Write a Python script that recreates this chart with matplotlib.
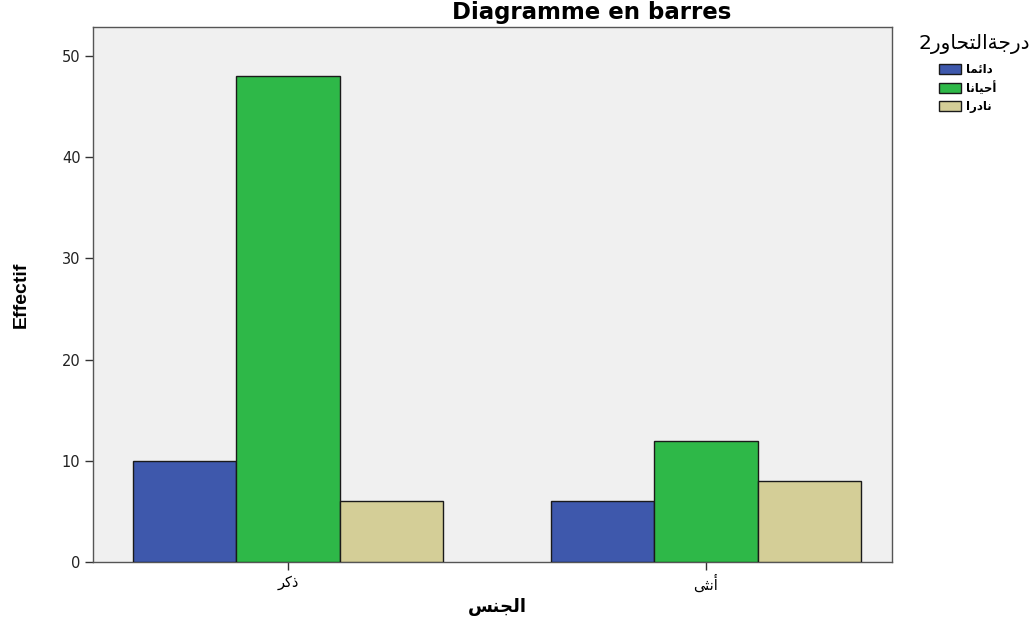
import matplotlib
matplotlib.use("Agg")
import matplotlib.pyplot as plt
import numpy as np
from matplotlib.patches import Patch

# ---- data ----
categories = ["ذكر", "أنثى"]
series_names = ["دائما", "أحيانا", "نادرا"]
values_always = [10, 6]
values_sometimes = [48, 12]
values_rarely = [6, 8]
colors = ["#3E58AC", "#2EB848", "#D4CE97"]
title = "Diagramme en barres"
ylabel = "Effectif"
xlabel = "الجنس"
legend_title = "درجةالتحاور2"
yticks = [0, 10, 20, 30, 40, 50]

# ---- minimal Arabic shaping (presentation forms) ----
FORMS = {
    "ا": ("\uFE8D", "\uFE8E", None, None),
    "أ": ("\uFE83", "\uFE84", None, None),
    "د": ("\uFEA9", "\uFEAA", None, None),
    "ذ": ("\uFEAB", "\uFEAC", None, None),
    "ر": ("\uFEAD", "\uFEAE", None, None),
    "و": ("\uFEED", "\uFEEE", None, None),
    "ة": ("\uFE93", "\uFE94", None, None),
    "ى": ("\uFEEF", "\uFEF0", None, None),
    "ئ": ("\uFE89", "\uFE8A", "\uFE8B", "\uFE8C"),
    "م": ("\uFEE1", "\uFEE2", "\uFEE3", "\uFEE4"),
    "ح": ("\uFEA1", "\uFEA2", "\uFEA3", "\uFEA4"),
    "ي": ("\uFEF1", "\uFEF2", "\uFEF3", "\uFEF4"),
    "ن": ("\uFEE5", "\uFEE6", "\uFEE7", "\uFEE8"),
    "ك": ("\uFED9", "\uFEDA", "\uFEDB", "\uFEDC"),
    "ث": ("\uFE99", "\uFE9A", "\uFE9B", "\uFE9C"),
    "ل": ("\uFEDD", "\uFEDE", "\uFEDF", "\uFEE0"),
    "ج": ("\uFE9D", "\uFE9E", "\uFE9F", "\uFEA0"),
    "س": ("\uFEB1", "\uFEB2", "\uFEB3", "\uFEB4"),
    "ت": ("\uFE95", "\uFE96", "\uFE97", "\uFE98"),
}


def shape(s):
    out = []
    n = len(s)
    for i, c in enumerate(s):
        if c not in FORMS:
            out.append(c)
            continue
        prev = s[i - 1] if i > 0 else None
        nxt = s[i + 1] if i < n - 1 else None
        jp = prev in FORMS and FORMS[prev][2] is not None
        jn = FORMS[c][2] is not None and nxt in FORMS
        f = FORMS[c]
        if jp and jn:
            out.append(f[3])
        elif jp:
            out.append(f[1])
        elif jn:
            out.append(f[2])
        else:
            out.append(f[0])
    return "".join(out)[::-1]


AR = ["DejaVu Sans"]

W, H = 1036, 628
fig = plt.figure(figsize=(W / 100, H / 100), dpi=100)
fig.patch.set_facecolor("white")
ax = fig.add_axes([93 / W, 1 - 562 / H, (892 - 93) / W, (562 - 27) / H])
ax.set_facecolor("#F0F0F0")

x = np.arange(len(categories))
bw = 0.2476
series = [values_always, values_sometimes, values_rarely]
for k, vals in enumerate(series):
    ax.bar(x + (k - 1) * bw, vals, width=bw, color=colors[k],
           edgecolor="#1a1a1a", linewidth=1.0, zorder=3)

ax.set_xlim(-0.4665, 1.445)
ax.set_ylim(0, 52.87)
ax.set_yticks(yticks)
ax.set_yticklabels([str(t) for t in yticks], fontsize=10.5,
                   family="DejaVu Sans", color="#222222")
ax.set_xticks(x)
ax.set_xticklabels([shape(c) for c in categories], family=AR, fontsize=10.5)
ax.tick_params(axis="both", direction="out", length=6, width=1.0,
               color="#333333", pad=3)
for sp in ax.spines.values():
    sp.set_color("#555555")
    sp.set_linewidth(1.0)

fig.text(592 / W, 1 - 13 / H, title, ha="center", va="center",
         fontsize=16.5, fontweight="bold", family="DejaVu Sans")
fig.text(21 / W, 1 - 295 / H, ylabel, ha="center", va="center",
         rotation=90, fontsize=14, fontweight="bold", family="Liberation Sans",
         fontstretch="condensed")
fig.text(497 / W, 1 - 607 / H, shape(xlabel), ha="center", va="center",
         fontsize=13, fontweight="bold", family=AR)

handles = [Patch(facecolor=colors[k], edgecolor="#1a1a1a", linewidth=1.0)
           for k in range(3)]
leg = fig.legend(handles, [shape(s) for s in series_names],
                 loc="upper left", bbox_to_anchor=(939 / W, 1 - 63 / H),
                 frameon=False, prop={"family": AR, "size": 8.5, "weight": "bold"},
                 handlelength=1.9, handleheight=0.95, labelspacing=0.45,
                 handletextpad=0.4, borderaxespad=0, borderpad=0)
fig.text(974 / W, 1 - 44 / H, shape(legend_title), ha="center", va="center",
         fontsize=14.5, family=AR)

fig.savefig("out.png", dpi=100)
